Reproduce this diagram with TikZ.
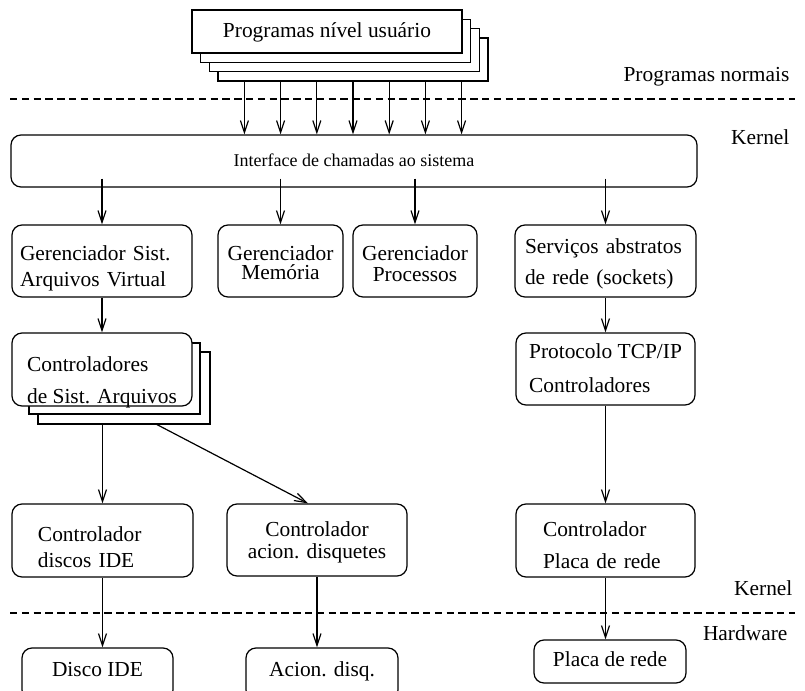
\documentclass[tikz,border=0pt]{standalone}
\usepackage{fontspec}
\setmainfont{Liberation Serif}
\usetikzlibrary{arrows.meta,calc}
\tikzset{block/.style={draw,rounded corners=5pt,inner ysep=0pt,fill=white},sheet/.style={draw,fill=white,inner sep=0pt},lft/.style 2 args={align=left,inner xsep=#1,text width=#2},lsk/.style={font=\fontsize{10.7}{#1}\selectfont},tdim/.style 2 args={text height=#1,text depth=#2},lbl/.style={anchor=east,inner sep=0pt},edge/.style={-{Straight Barb[length=6pt,width=4pt]}},sep/.style={dash pattern=on 3.7pt off 2.2pt}}

\begin{document}
\begin{tikzpicture}[x=.5pt,y=-.5pt,line width=.6pt,font=\fontsize{10.7}{12.8}\selectfont]
\useasboundingbox (0,0) rectangle (805,691);
\foreach \k/\dx/\dy in {3/26/28,2/17.3/18.7,1/8.7/9.3}{\node[sheet,minimum width=135pt,minimum height=21.5pt] (prog\k) at (327+\dx,31.5+\dy) {};}
\node[sheet,minimum width=135pt,tdim={13.75pt}{7.75pt}] (prog) at (327,31.5) {Programas nível usuário};
\node[block,minimum width=343pt,tdim={15.8pt}{10.2pt},font=\fontsize{9}{11}\selectfont] (iface) at (354,161) {Interface de chamadas ao sistema};
\foreach \i in {0,...,6}{\path (prog3.south west) ++(27+36.2*\i,0) coordinate (u\i); \draw[edge] (u\i) -- (u\i |- iface.north);}
\draw[sep] (10,99) -- (795,99); \draw[sep] (10,613) -- (795,613);
\node[lbl] (lnorm) at (790,77) {Programas normais};
\node[lbl] (lkern) at (790,137) {Kernel};
\node[lbl] (lkern2) at (793,588) {Kernel};
\node[lbl] (lhw) at (788,633) {Hardware};
% gerenciadores
\node[block,lft={4pt}{82pt},lsk=13pt,tdim={17.5pt}{18.5pt}] (gsv) at (102,261) {Gerenciador Sist.\\Arquivos Virtual};
\node[block,minimum width=62.5pt,align=center,lsk=9.5pt,tdim={27pt}{9pt}] (gmem) at (280.5,261) {Gerenciador\\Memória};
\node[block,minimum width=62pt,align=center,lsk=10.5pt,tdim={28pt}{8pt}] (gproc) at (415,261) {Gerenciador\\Processos};
\node[block,lft={5pt}{80.5pt},lsk=15.5pt,tdim={14pt}{22pt}] (srede) at (605.5,261) {Serviços abstratos\\de rede (sockets)};
% controladores
\node[sheet,minimum width=86pt,minimum height=36pt] (fs3) at (124,388) {};
\node[sheet,minimum width=85.5pt,minimum height=35.5pt] (fs2) at (114.5,378.5) {};
\node[block,minimum width=90pt,align=left,lsk=15.75pt,tdim={35pt}{1.5pt}] (ctrl) at (102,369.5) {Controladores\\de Sist. Arquivos};
\node[block,minimum width=89.5pt,align=left,lsk=17pt,tdim={29.5pt}{6.5pt}] (tcp) at (605.5,369) {Protocolo TCP/IP\\Controladores};
\node[block,lft={13pt}{64.5pt},lsk=12.8pt,tdim={18.75pt}{17.75pt}] (ide) at (102.5,540.5) {Controlador\\discos IDE};
\node[block,minimum width=90pt,align=center,lsk=11pt,tdim={27pt}{9pt}] (fdc) at (317,540) {Controlador\\acion. disquetes};
\node[block,lft={13.5pt}{62.5pt},lsk=15.8pt,tdim={16.25pt}{20.25pt}] (nic) at (605.5,540.5) {Controlador\\Placa de rede};
% hardware
\node[block,minimum width=75.5pt,tdim={14pt}{12pt}] (disk) at (97.5,674) {Disco IDE};
\node[block,minimum width=76pt,tdim={14pt}{12pt}] (flop) at (322,674) {Acion. disq.};
\node[block,minimum width=76pt,tdim={13.25pt}{8.25pt}] (card) at (610,661.5) {Placa de rede};
\foreach \n in {gsv,gmem,gproc,srede}{\draw[edge] ($(iface.south -| \n.north)+(0,-9)$) -- (\n.north);}
\draw[edge] (gsv.south) -- (ctrl.north); \draw[edge] (srede.south) -- (tcp.north);
\draw[edge] (fs3.south -| ide.north) -- (ide.north);
\draw[edge] ([xshift=16.5pt]fs3.south) -- ([xshift=-4.5pt]fdc.north);
\draw[edge] (tcp.south) -- (nic.north);
\draw[edge] (ide.south) -- (ide.south |- disk.north);
\draw[edge] (fdc.south) -- (fdc.south |- flop.north);
\draw[edge] (nic.south) -- (nic.south |- card.north);
\end{tikzpicture}
\end{document}
